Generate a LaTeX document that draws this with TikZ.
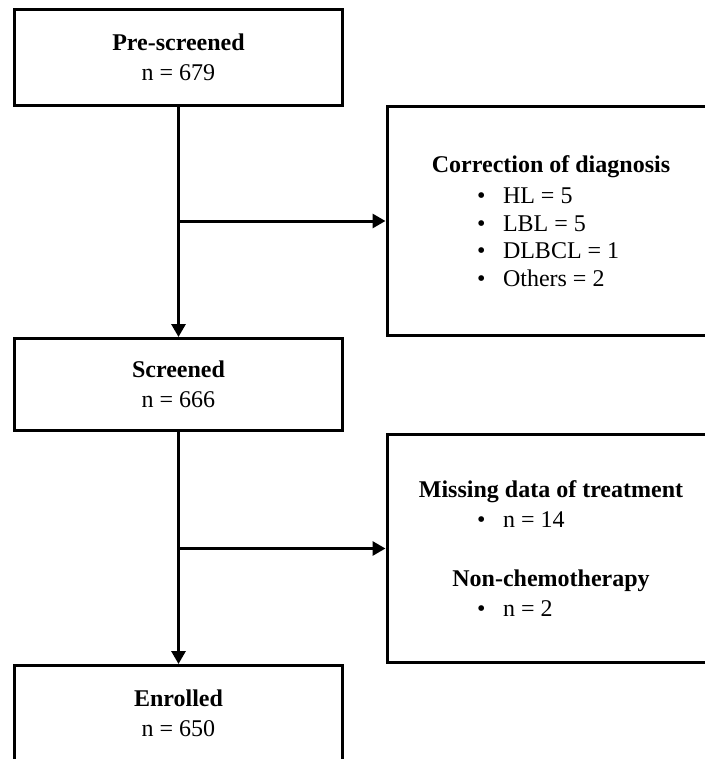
\documentclass[tikz,border=0pt]{standalone}
\usepackage{fontspec}
\setmainfont{Liberation Serif}
\usetikzlibrary{positioning,arrows.meta}
\newcommand{\bitem}[1]{\makebox[148pt][l]{\textbullet\hspace{17.6pt}#1}}

\begin{document}
\begin{tikzpicture}[x=1pt, y=1pt, >={Triangle[length=13pt,width=14pt]}, line width=3pt,
  box/.style={draw, rectangle, line width=3pt, align=center, inner sep=0pt},
  mainbox/.style={box, minimum width=328pt, minimum height=96pt, font=\fontsize{24}{30}\selectfont},
  sidebox/.style={box, minimum width=328pt, minimum height=229pt, font=\fontsize{24}{27.5}\selectfont}]
\useasboundingbox (0,0) rectangle (704,-759);

\node[mainbox] (pre) at (178.5,-57.5) {\textbf{Pre-screened}\\n = 679};
\node[mainbox, below=230pt of pre, minimum height=92pt] (scr) {\textbf{Screened}\\n = 666};
\node[mainbox, below=232pt of scr] (enr) {\textbf{Enrolled}\\n = 650};

\coordinate (b1) at (178.5,-221);
\coordinate (b2) at (178.5,-548.5);
\node[sidebox, right=207pt of b1] (corr) {\textbf{Correction of diagnosis}\\[3.5pt]\bitem{HL = 5}\\\bitem{LBL = 5}\\\bitem{DLBCL = 1}\\\bitem{Others = 2}};
\node[sidebox, right=207pt of b2, minimum height=228pt] (miss) {\textbf{Missing data of treatment}\\[2.5pt]\bitem{n = 14}\\[31.5pt]\textbf{Non-chemotherapy}\\[2.5pt]\bitem{n = 2}};

\draw[->] (pre) -- (scr);
\draw[->] (scr) -- (enr);
\draw[->] (b1) -- (corr);
\draw[->] (b2) -- (miss);
\end{tikzpicture}
\end{document}
